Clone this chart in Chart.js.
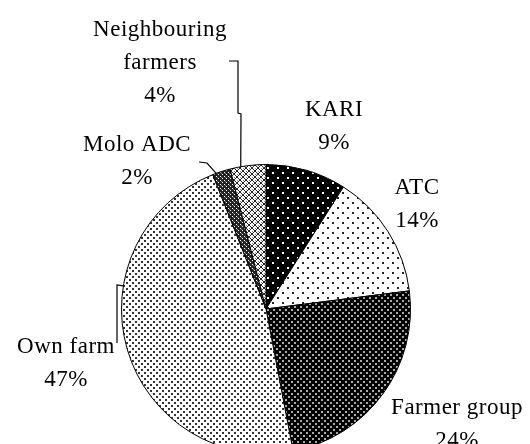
<!DOCTYPE html>
<html><head><meta charset="utf-8">
<script src="https://cdn.jsdelivr.net/npm/chart.js@4.4.0/dist/chart.umd.min.js"></script>
<style>html,body{margin:0;padding:0;background:#fff;overflow:hidden;width:530px;height:444px}canvas{display:block}</style>
</head><body>
<canvas id="c" width="530" height="460"></canvas>
<script>
const categories = ['KARI', 'ATC', 'Farmer group', 'Own farm', 'Molo ADC', 'Neighbouring farmers'];
const values = [9, 14, 24, 47, 2, 4];
const labelLines = [['KARI'], ['ATC'], ['Farmer group'], ['Own farm'], ['Molo ADC'], ['Neighbouring', 'farmers']];

function makePattern(size, bg, draw) {
  const c = document.createElement('canvas');
  c.width = size; c.height = size;
  const g = c.getContext('2d');
  g.fillStyle = bg; g.fillRect(0, 0, size, size);
  draw(g);
  return g.createPattern(c, 'repeat');
}
const ctx = document.getElementById('c').getContext('2d');
const patterns = [
  makePattern(10, '#000', g => { g.fillStyle = '#fff'; g.fillRect(2, 2, 2, 2); g.fillRect(7, 7, 2, 2); }),
  makePattern(10, '#fff', g => { g.fillStyle = '#222'; g.fillRect(2, 2, 2, 2); g.fillRect(7, 7, 2, 2); }),
  makePattern(6, '#000', g => { g.fillStyle = '#aaa'; g.fillRect(0, 0, 2, 2); g.fillRect(3, 3, 2, 2); }),
  makePattern(6, '#fff', g => { g.fillStyle = '#333'; g.fillRect(0, 0, 2, 2); g.fillRect(3, 3, 2, 2); }),
  makePattern(4, '#222', g => { g.fillStyle = '#fff'; g.fillRect(0, 0, 1, 1); g.fillRect(2, 2, 1, 1); g.fillStyle = '#777'; g.fillRect(1, 1, 1, 1); }),
  makePattern(6, '#fff', g => { g.fillStyle = '#222'; for (let i = 0; i < 6; i++) { g.fillRect(i, i, 1, 1); g.fillRect(i, 5 - i, 1, 1); } g.fillStyle = '#888'; g.fillRect(0, 3, 1, 1); g.fillRect(3, 0, 1, 1); })
];

const labelPlugin = {
  id: 'labels',
  afterDraw(chart, args, opts) {
    const c = chart.ctx;
    const arcs = chart.getDatasetMeta(0).data;
    c.save();
    c.strokeStyle = '#000'; c.lineWidth = 1.2;
    opts.leaders.forEach(ld => {
      const a = arcs[ld.index];
      const p = a.getProps(['x', 'y', 'startAngle', 'endAngle', 'outerRadius'], true);
      const ang = p.startAngle + ld.t * (p.endAngle - p.startAngle);
      c.beginPath();
      ld.path.forEach((pt, i) => i ? c.lineTo(pt[0], pt[1]) : c.moveTo(pt[0], pt[1]));
      c.lineTo(p.x + p.outerRadius * Math.cos(ang), p.y + p.outerRadius * Math.sin(ang));
      c.stroke();
    });
    c.fillStyle = '#000';
    c.font = '23px "Liberation Serif", "Times New Roman", serif';
    c.textAlign = 'center'; c.textBaseline = 'middle';
    try { c.letterSpacing = '0.5px'; } catch (e) {}
    categories.forEach((cat, i) => {
      const [x, y] = opts.pos[i];
      const lines = labelLines[i].concat([values[i] + '%']);
      lines.forEach((ln, j) => c.fillText(ln, x, y + j * opts.lineHeight));
    });
    c.restore();
  }
};

new Chart(ctx, {
  type: 'pie',
  data: { labels: categories, datasets: [{ data: values, backgroundColor: patterns, borderColor: '#000', borderWidth: 1 }] },
  options: {
    responsive: false, animation: false, rotation: 0,
    layout: { padding: { left: 121, right: 119, top: 164, bottom: 6 } },
    plugins: {
      legend: { display: false }, tooltip: { enabled: false },
      labels: {
        lineHeight: 33,
        pos: [[334, 110], [417, 188], [457, 408], [66, 347], [137, 145], [160, 30]],
        leaders: [
          { index: 5, t: 0.3, path: [[229, 61], [238, 61], [238, 113], [241, 114]] },
          { index: 4, t: 0.2, path: [[199, 162], [207, 163]] },
          { index: 3, t: 0.65, path: [[117, 343], [117, 285]] }
        ]
      }
    }
  },
  plugins: [labelPlugin]
});
</script>
</body></html>
